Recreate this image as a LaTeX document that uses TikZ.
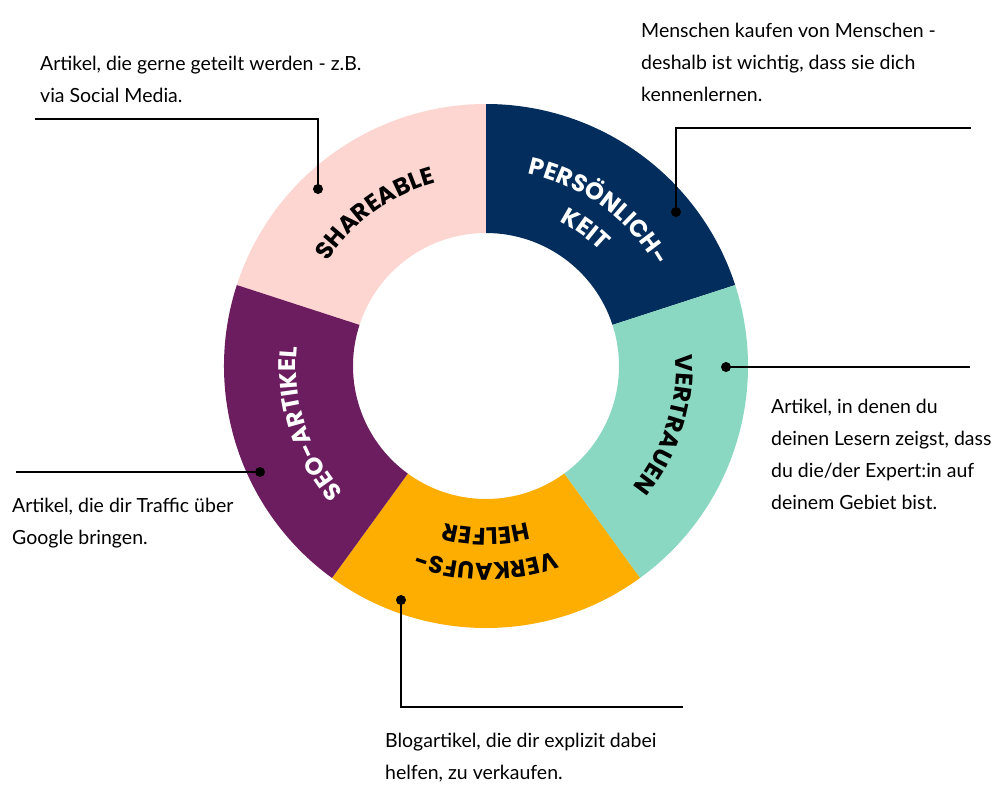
\documentclass[tikz,border=0pt]{standalone}
\usepackage{fontspec}
\usetikzlibrary{decorations.text}

\setmainfont{Lato}
\newfontfamily\labelfont{Poppins}[LetterSpace=14]

\definecolor{shareC}{HTML}{FDD5D1}
\definecolor{persC}{HTML}{032D5C}
\definecolor{vertC}{HTML}{8AD8C2}
\definecolor{verkC}{HTML}{FDAE00}
\definecolor{seoC}{HTML}{6C1D5F}

% curved label on the ring, read clockwise: start angle, radius, colour, text
\newcommand{\ringlabel}[4]{%
  \path[decorate, decoration={text along path, text align=center,
      text={|\labelfont\bfseries\fontsize{24}{24}\selectfont\color{#3}|#4}}]
    (#1+72:#2) arc[start angle=#1+72, delta angle=-72, radius=#2];}

\begin{document}
\begin{tikzpicture}[x=1pt, y=1pt,
    note/.style={anchor=base west, align=left, inner sep=0pt, font=\fontsize{19.5}{32}\selectfont},
    dot/.style={circle, fill=black, inner sep=0pt, minimum size=10pt},
    callout/.style={line width=2pt}]

    \useasboundingbox (-486,-438) rectangle (514,366);

    % Radii of the ring
    \def\rout{262}
    \def\rin{133}

    % Draw the five segments
    \foreach \from/\col in {90/shareC, 18/persC, -54/vertC, -126/verkC, 162/seoC} {
        \fill[\col] (\from:\rout) arc[start angle=\from, delta angle=72, radius=\rout]
            -- (\from+72:\rin) arc[start angle=\from+72, delta angle=-72, radius=\rin] -- cycle;
    }

    % Labels along the ring
    \ringlabel{90}{190}{black}{SHAREABLE}
    \ringlabel{18}{197}{white}{PERSÖNLICH-}
    \ringlabel{18}{162}{white}{KEIT}
    \ringlabel{-54}{190}{black}{VERTRAUEN}
    \ringlabel{-126}{197}{black}{VERKAUFS-}
    \ringlabel{-126}{162}{black}{HELFER}
    \ringlabel{162}{190}{white}{SEO-ARTIKEL}

    % Dots on the segments
    \node[dot] (dotShare) at (-168,177) {};
    \node[dot] (dotPers) at (190,154) {};
    \node[dot] (dotVert) at (240,-1) {};
    \node[dot] (dotVerk) at (-85,-234) {};
    \node[dot] (dotSeo) at (-226,-106) {};

    % Free ends of the callout lines
    \coordinate (endShare) at (-451,247);
    \coordinate (endPers) at (485,238);
    \coordinate (endVert) at (484,-1);
    \coordinate (endVerk) at (197,-341);
    \coordinate (endSeo) at (-470,-106);

    % Callout lines
    \draw[callout] (dotShare.center) |- (endShare);
    \draw[callout] (dotPers.center) |- (endPers);
    \draw[callout] (dotVert.center) -- (endVert);
    \draw[callout] (dotVerk.center) |- (endVerk);
    \draw[callout] (dotSeo.center) -- (endSeo);

    % Notes (anchored at the baseline of their last line)
    \node[note] (noteShare) at (-446,264) {Artikel, die gerne geteilt werden - z.B.\\via Social Media.};
    \node[note] (notePers) at (155,265) {Menschen kaufen von Menschen -\\deshalb ist wichtig, dass sie dich\\kennenlernen.};
    \node[note] (noteVert) at (285,-143) {Artikel, in denen du\\deinen Lesern zeigst, dass\\du die/der Expert:in auf\\deinem Gebiet bist.};
    \node[note] (noteSeo) at (-474,-178) {Artikel, die dir Traffic über\\Google bringen.};
    \node[note] (noteVerk) at (-101,-413) {Blogartikel, die dir explizit dabei\\helfen, zu verkaufen.};

\end{tikzpicture}
\end{document}
